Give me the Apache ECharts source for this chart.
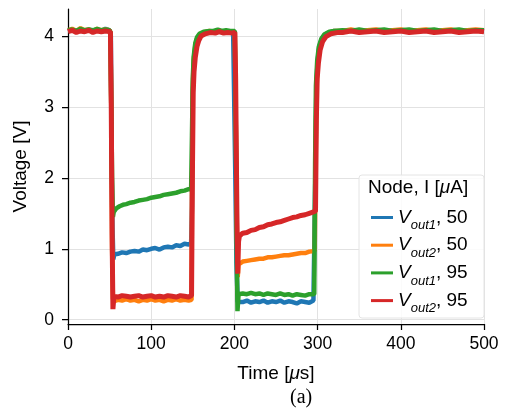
<!DOCTYPE html>
<html>
<head>
<meta charset="utf-8">
<script src="https://cdn.jsdelivr.net/npm/echarts@6/dist/echarts.min.js"></script>
<style>html,body{margin:0;padding:0;background:#fff}#c{width:505px;height:410px}</style>
</head>
<body>
<div id="c"></div>
<script>
// ---- data ----
const seriesNames = ['Vout1, 50', 'Vout2, 50', 'Vout1, 95', 'Vout2, 95'];
const xTicks = [0, 100, 200, 300, 400, 500];
const yTicks = [0, 1, 2, 3, 4];

const vout1_50 = [
  [0,4.07],[5,4.09],[10,4.06],[15,4.08],[20,4.07],[25,4.09],[30,4.06],[35,4.08],[40,4.07],[45,4.1],[50,4.08],
  [51.5,4.0],[52.5,2.1],[53.5,1.3],[54.5,0.85],[55.5,0.92],
  [60,0.93],[65,0.95],[70,0.94],[75,0.96],[80,0.97],[85,0.96],[90,0.99],[95,0.98],[100,1.0],[105,1.01],[110,0.99],
  [115,1.02],[120,1.03],[125,1.02],[130,1.05],[135,1.04],[140,1.07],[145,1.06],[148,1.08],
  [149,1.6],[150,3.2],[151,3.6],[153,3.85],[155,3.95],[158,4.01],[163,4.04],[170,4.06],
  [175,4.05],[180,4.07],[185,4.05],[190,4.06],[195,4.05],[198.5,4.05],
  [199.5,3.3],[201,2.1],[202.5,0.8],[204,0.25],
  [206,0.27],[210,0.25],[215,0.27],[220,0.24],[225,0.26],[230,0.25],[235,0.27],[240,0.24],[245,0.26],[250,0.25],
  [255,0.27],[260,0.24],[265,0.26],[270,0.25],[275,0.23],[280,0.26],[285,0.25],[290,0.24],[295,0.27],[296.5,0.28],
  [297.5,2.2],[298.5,3.3],[300,3.65],[302,3.85],[305,3.96],[309,4.02],[315,4.05],[320,4.07],
  [330,4.06],[340,4.08],[350,4.06],[360,4.07],[370,4.08],[380,4.06],[390,4.07],[400,4.08],[410,4.06],[420,4.07],
  [430,4.08],[440,4.06],[450,4.07],[460,4.08],[470,4.06],[480,4.07],[490,4.08],[500,4.07]
];
const vout2_50 = [
  [0,4.08],[5,4.1],[10,4.07],[15,4.11],[20,4.08],[25,4.09],[30,4.07],[35,4.1],[40,4.08],[45,4.09],[50,4.08],
  [51,4.05],[52,3.0],[53,1.0],[54,0.3],[55,0.26],
  [60,0.28],[65,0.27],[70,0.29],[75,0.27],[80,0.28],[85,0.26],[90,0.28],[95,0.27],[100,0.29],[105,0.27],[110,0.28],
  [115,0.26],[120,0.28],[125,0.27],[130,0.29],[135,0.27],[140,0.28],[145,0.27],[148.5,0.28],
  [149,1.8],[150,3.3],[151,3.65],[153,3.87],[155,3.96],[158,4.02],[163,4.05],[170,4.07],
  [175,4.06],[180,4.08],[185,4.06],[190,4.07],[195,4.06],[200.5,4.06],
  [201.5,3.0],[203,1.2],[204,0.6],[205,0.78],[207,0.8],
  [210,0.82],[215,0.83],[220,0.84],[225,0.85],[230,0.86],[235,0.86],[240,0.88],[245,0.88],[250,0.89],[255,0.9],
  [260,0.91],[265,0.91],[270,0.92],[275,0.93],[280,0.94],[285,0.94],[290,0.96],[296.5,0.97],
  [297.5,2.0],[298.5,3.2],[300,3.6],[302,3.82],[305,3.95],[309,4.02],[315,4.05],[320,4.07],
  [330,4.07],[340,4.09],[350,4.07],[360,4.08],[370,4.09],[380,4.07],[390,4.08],[400,4.09],[410,4.07],[420,4.08],
  [430,4.09],[440,4.07],[450,4.08],[460,4.09],[470,4.07],[480,4.08],[490,4.09],[500,4.08]
];
const vout1_95 = [
  [0,4.08],[5,4.09],[10,4.07],[15,4.1],[20,4.08],[25,4.09],[30,4.08],[35,4.1],[40,4.08],[45,4.09],[50,4.08],
  [51,4.05],[52,3.0],[53,2.0],[54,1.45],[55,1.52],
  [58,1.57],[62,1.6],[66,1.62],[70,1.63],[75,1.65],[80,1.66],[85,1.68],[90,1.69],[95,1.7],[100,1.72],[105,1.73],
  [110,1.74],[115,1.76],[120,1.77],[125,1.78],[130,1.79],[135,1.81],[140,1.82],[145,1.84],[148,1.84],
  [149,2.6],[150,3.4],[151,3.7],[153,3.9],[155,3.98],[158,4.03],[163,4.06],[170,4.07],
  [175,4.07],[180,4.09],[185,4.07],[190,4.08],[195,4.07],[200.5,4.07],
  [201.5,3.0],[203,0.8],[203.7,0.12],[205,0.36],
  [210,0.37],[215,0.36],[220,0.38],[225,0.36],[230,0.37],[235,0.35],[240,0.37],[245,0.36],[250,0.35],[255,0.37],
  [260,0.35],[265,0.36],[270,0.34],[275,0.36],[280,0.35],[285,0.34],[290,0.36],[296,0.36],
  [297,2.2],[298,3.3],[299.5,3.65],[301.5,3.85],[304.5,3.96],[308,4.02],[314,4.06],[320,4.07],
  [330,4.08],[340,4.07],[350,4.09],[360,4.07],[370,4.08],[380,4.09],[390,4.07],[400,4.08],[410,4.09],[420,4.07],
  [430,4.08],[440,4.09],[450,4.07],[460,4.08],[470,4.09],[480,4.07],[490,4.08],[500,4.08]
];
const vout2_95 = [
  [0,4.06],[5,4.08],[10,4.05],[15,4.07],[20,4.06],[25,4.08],[30,4.05],[35,4.07],[40,4.06],[45,4.07],[51,4.06],
  [52,3.0],[53,1.2],[54,0.15],[55,0.3],
  [56,0.33],[60,0.32],[65,0.34],[70,0.33],[75,0.32],[80,0.33],[85,0.34],[90,0.32],[95,0.33],[100,0.34],[105,0.32],
  [110,0.33],[115,0.32],[120,0.34],[125,0.33],[130,0.32],[135,0.34],[140,0.33],[145,0.32],[148.5,0.34],
  [149.5,2.0],[150.5,3.2],[151.5,3.5],[153,3.7],[155,3.85],[157,3.93],[160,4.0],[165,4.03],[172,4.05],
  [177,4.04],[182,4.06],[187,4.04],[192,4.05],[197,4.04],[200.5,4.05],
  [201.5,3.4],[203,1.5],[204,0.65],[205,1.1],[206,1.18],
  [210,1.22],[215,1.23],[220,1.26],[225,1.27],[230,1.3],[235,1.31],[240,1.34],[245,1.35],[250,1.37],[255,1.38],
  [260,1.4],[265,1.42],[270,1.44],[275,1.45],[280,1.47],[285,1.48],[290,1.5],[297.5,1.53],
  [298.5,2.8],[299.5,3.4],[301,3.62],[303,3.8],[306,3.92],[310,3.99],[316,4.03],[325,4.05],
  [330,4.05],[340,4.07],[350,4.05],[360,4.06],[370,4.07],[380,4.05],[390,4.06],[400,4.07],[410,4.05],[420,4.06],
  [430,4.07],[440,4.05],[450,4.06],[460,4.07],[470,4.05],[480,4.06],[490,4.07],[500,4.06]
];
const seriesData = [vout1_50, vout2_50, vout1_95, vout2_95];
const colors = ['#1f77b4', '#ff7f0e', '#2ca02c', '#d62728'];

// ---- chart ----
const FONT = 'Liberation Sans';
const chart = echarts.init(document.getElementById('c'), null, {renderer: 'canvas'});
const gridColor = '#e2e2e2';

function legendLabel(name) {
  // 'Vout1, 50' -> italic V, italic subscript 'out1', ', 50'
  const m = name.match(/^V(out\d)(.*)$/);
  return '{v|V}{s|' + m[1] + '}{n|' + m[2] + '}';
}

chart.setOption({
  animation: false,
  color: colors,
  textStyle: {fontFamily: FONT},
  grid: {left: 68, right: 21, top: 9, bottom: 86, containLabel: false},
  xAxis: {
    type: 'value', min: 0, max: 500, interval: 100,
    name: 'Time [{m|μ}s]', nameLocation: 'middle', nameGap: 40,
    nameTextStyle: {fontFamily: FONT, fontSize: 19, color: '#000', rich: {m: {fontFamily: FONT, fontSize: 19, fontStyle: 'italic', color: '#000'}}},
    axisLine: {onZero: false, lineStyle: {color: '#000', width: 1.25}},
    axisTick: {show: true, length: 6, lineStyle: {color: '#000', width: 1.25}, customValues: xTicks},
    axisLabel: {fontFamily: FONT, fontSize: 17.5, color: '#000', margin: 11, customValues: xTicks},
    splitLine: {show: true, lineStyle: {color: gridColor, width: 1}}
  },
  yAxis: {
    type: 'value', min: -0.06, max: 4.38,
    name: 'Voltage [V]', nameLocation: 'middle', nameGap: 38, nameRotate: 90,
    nameTextStyle: {fontFamily: FONT, fontSize: 19, color: '#000'},
    axisLine: {show: true, onZero: false, lineStyle: {color: '#000', width: 1.25}},
    axisTick: {show: true, length: 6, lineStyle: {color: '#000', width: 1.25}, customValues: yTicks},
    axisLabel: {fontFamily: FONT, fontSize: 17.5, color: '#000', margin: 14, customValues: yTicks},
    splitLine: {show: true, lineStyle: {color: gridColor, width: 1}}
  },
  legend: {
    orient: 'vertical', left: 366, top: 203, z: 20,
    icon: 'rect', itemWidth: 22, itemHeight: 3, itemGap: 3.7,
    data: seriesNames,
    formatter: legendLabel,
    textStyle: {
      fontFamily: FONT, fontSize: 19, color: '#000',
      rich: {
        v: {fontFamily: FONT, fontSize: 19, fontStyle: 'italic', color: '#000', lineHeight: 21},
        s: {fontFamily: FONT, fontSize: 13, fontStyle: 'italic', color: '#000', lineHeight: 13, verticalAlign: 'bottom', padding: [0, 0, -4, 0]},
        n: {fontFamily: FONT, fontSize: 19, color: '#000', lineHeight: 21}
      }
    }
  },
  graphic: [
    {type: 'rect', z: 15, shape: {x: 359, y: 175, width: 125, height: 143, r: 3},
     style: {fill: 'rgba(255,255,255,0.85)', stroke: '#e4e4e4', lineWidth: 1}},
    {type: 'text', z: 21, left: 368, top: 178,
     style: {text: '{a|Node, I [}{m|μ}{a|A]}', rich: {
       a: {fontFamily: FONT, fontSize: 19, fill: '#000'},
       m: {fontFamily: FONT, fontSize: 19, fontStyle: 'italic', fill: '#000'}}}},
    {type: 'text', z: 21, left: 290, top: 388,
     style: {text: '(a)', fontFamily: 'Liberation Serif', fontSize: 20, fill: '#000'}}
  ],
  series: seriesData.map((d, i) => ({
    name: seriesNames[i], type: 'line', data: d, showSymbol: false, symbol: 'none',
    z: 2 + i,
    lineStyle: {width: i === 3 ? 5 : 4.5, color: colors[i]},
    itemStyle: {color: colors[i]}
  }))
});
</script>
</body>
</html>
